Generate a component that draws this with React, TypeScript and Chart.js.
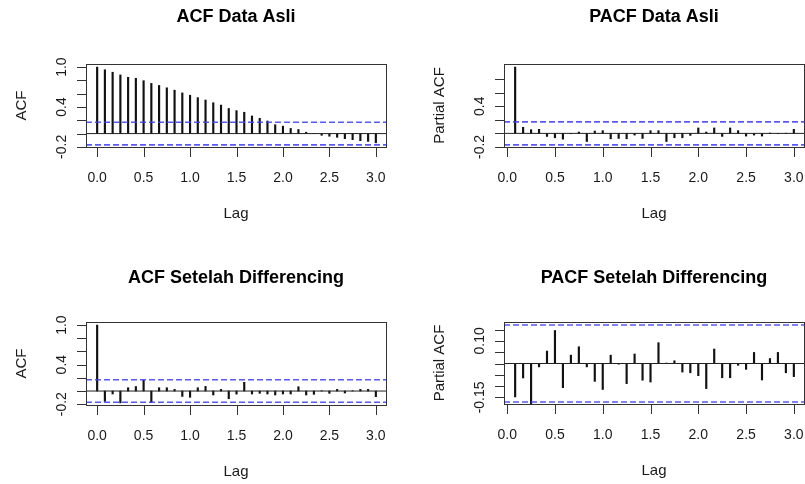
import React, { useEffect, useRef } from "react";
import { Chart, registerables } from "chart.js";
Chart.register(...registerables);

const W = 805;
const H = 484;
const FONT = '"Liberation Sans", Arial, Helvetica, sans-serif';

const FREQ = 12;
const CONF = 0.17;

// ACF of original data, lags 0..36 (months)
const acfAsli = [1.0, 0.96, 0.923, 0.883, 0.847, 0.832, 0.796, 0.755, 0.724, 0.689, 0.653, 0.612, 0.577, 0.541, 0.505, 0.464, 0.429, 0.378, 0.345, 0.321, 0.265, 0.23, 0.189, 0.133, 0.112, 0.077, 0.061, 0.02, 0.004, -0.026, -0.04, -0.056, -0.077, -0.092, -0.107, -0.117, -0.138];
// PACF of original data, lags 1..36
const pacfAsli = [0.98, 0.09, 0.055, 0.06, -0.045, -0.065, -0.085, -0.005, 0.02, -0.12, 0.035, 0.04, -0.08, -0.075, -0.08, -0.025, -0.075, 0.04, 0.04, -0.12, -0.065, -0.065, -0.03, 0.08, 0.02, 0.08, -0.045, 0.08, 0.04, -0.04, -0.025, -0.04, 0.005, -0.005, 0.003, 0.06];
// ACF after differencing, lags 0..36
const acfDiff = [1.0, -0.157, -0.045, -0.18, 0.05, 0.068, 0.162, -0.175, 0.05, 0.05, 0.025, -0.082, -0.095, 0.05, 0.07, -0.06, 0.025, -0.117, -0.047, 0.132, -0.045, -0.035, -0.045, -0.06, -0.045, -0.045, 0.065, -0.06, -0.05, 0.004, -0.035, 0.025, -0.03, 0.004, 0.025, 0.025, -0.085];
// PACF after differencing, lags 1..36
const pacfDiff = [-0.148, -0.064, -0.182, -0.015, 0.055, 0.146, -0.107, 0.037, 0.074, -0.015, -0.079, -0.115, 0.037, -0.003, -0.089, 0.042, -0.074, -0.082, 0.092, 0.002, 0.012, -0.038, -0.041, -0.054, -0.111, 0.064, -0.063, -0.063, -0.008, -0.026, 0.049, -0.073, 0.022, 0.049, -0.041, -0.058];

const xTickVals = [0, 0.5, 1, 1.5, 2, 2.5, 3];
const xTickLabels = ["0.0", "0.5", "1.0", "1.5", "2.0", "2.5", "3.0"];

const yTicksAcf = [-0.2, 0, 0.2, 0.4, 0.6, 0.8, 1.0];
const yLabelsAcf = ["-0.2", "", "", "0.4", "", "", "1.0"];
const yTicksPacf = [-0.2, 0, 0.2, 0.4, 0.6, 0.8];
const yLabelsPacf = ["-0.2", "", "", "0.4", "", ""];
const yTicksPacfDiff = [-0.15, -0.1, -0.05, 0, 0.05, 0.1, 0.15];
const yLabelsPacfDiff = ["-0.15", "", "", "", "", "0.10", ""];

const titles = ["ACF Data Asli", "PACF Data Asli", "ACF Setelah Differencing", "PACF Setelah Differencing"];
const yTitles = ["ACF", "Partial ACF", "ACF", "Partial ACF"];

type Panel = {
  title: string;
  ylab: string;
  lags: number[];
  values: number[];
  box: { l: number; t: number; r: number; b: number };
  titleY: number;
  xMin: number;
  xMax: number;
  yMin: number;
  yMax: number;
  yTicks: number[];
  yLabels: string[];
};

const acfLags = (vals: number[]) => vals.map((_, k) => k / FREQ);
const pacfLags = (vals: number[]) => vals.map((_, k) => (k + 1) / FREQ);

const panels: Panel[] = [
  {
    title: titles[0], ylab: yTitles[0], lags: acfLags(acfAsli), values: acfAsli,
    box: { l: 86, t: 64, r: 386, b: 147 }, titleY: 17,
    xMin: -0.12, xMax: 3.12, yMin: -0.217, yMax: 1.047,
    yTicks: yTicksAcf, yLabels: yLabelsAcf,
  },
  {
    title: titles[1], ylab: yTitles[1], lags: pacfLags(pacfAsli), values: pacfAsli,
    box: { l: 504, t: 64, r: 804, b: 147 }, titleY: 17,
    xMin: -0.0333, xMax: 3.1167, yMin: -0.216, yMax: 1.025,
    yTicks: yTicksPacf, yLabels: yLabelsPacf,
  },
  {
    title: titles[2], ylab: yTitles[2], lags: acfLags(acfDiff), values: acfDiff,
    box: { l: 86, t: 322, r: 386, b: 405 }, titleY: 278,
    xMin: -0.12, xMax: 3.12, yMin: -0.227, yMax: 1.047,
    yTicks: yTicksAcf, yLabels: yLabelsAcf,
  },
  {
    title: titles[3], ylab: yTitles[3], lags: pacfLags(pacfDiff), values: pacfDiff,
    box: { l: 504, t: 322, r: 804, b: 404 }, titleY: 278,
    xMin: -0.0333, xMax: 3.1167, yMin: -0.1836, yMax: 0.1836,
    yTicks: yTicksPacfDiff, yLabels: yLabelsPacfDiff,
  },
];

function makePlugin(p: Panel) {
  return {
    id: "rAxes",
    afterDraw(chart: any) {
      const ctx: CanvasRenderingContext2D = chart.ctx;
      const xs = chart.scales.x;
      const ys = chart.scales.y;
      const { l, t, r, b } = p.box;
      ctx.save();
      ctx.strokeStyle = "#333";
      ctx.lineWidth = 1;
      ctx.strokeRect(l + 0.5, t + 0.5, r - l, b - t);
      ctx.fillStyle = "#1a1a1a";
      // x ticks
      ctx.font = `14px ${FONT}`;
      ctx.textAlign = "center";
      ctx.textBaseline = "middle";
      ctx.beginPath();
      xTickVals.forEach((v) => {
        const px = Math.round(xs.getPixelForValue(v)) + 0.5;
        ctx.moveTo(px, b + 1);
        ctx.lineTo(px, b + 10);
      });
      ctx.stroke();
      xTickVals.forEach((v, i) => {
        const px = xs.getPixelForValue(v);
        ctx.fillText(xTickLabels[i], px, b + 31);
      });
      // y ticks
      ctx.beginPath();
      p.yTicks.forEach((v) => {
        const py = Math.round(ys.getPixelForValue(v)) + 0.5;
        ctx.moveTo(l - 9, py);
        ctx.lineTo(l, py);
      });
      ctx.stroke();
      p.yTicks.forEach((v, i) => {
        const lab = p.yLabels[i];
        if (!lab) return;
        const py = ys.getPixelForValue(v);
        ctx.save();
        ctx.translate(l - 24, py);
        ctx.rotate(-Math.PI / 2);
        ctx.fillText(lab, 0, 0);
        ctx.restore();
      });
      // axis titles
      ctx.font = `15px ${FONT}`;
      ctx.fillText("Lag", (l + r) / 2, b + 67);
      ctx.save();
      ctx.translate(l - 64, (t + b) / 2);
      ctx.rotate(-Math.PI / 2);
      ctx.fillText(p.ylab, 0, 0);
      ctx.restore();
      // main title
      ctx.font = `bold 18px ${FONT}`;
      ctx.fillStyle = "#000";
      ctx.fillText(p.title, (l + r) / 2, p.titleY);
      ctx.restore();
    },
  };
}

function PanelChart({ p }: { p: Panel }) {
  const ref = useRef<HTMLCanvasElement | null>(null);
  useEffect(() => {
    if (!ref.current) return;
    const hline = (y: number, color: string, width: number, dash: number[], order: number) => ({
      type: "line" as const,
      data: [{ x: p.xMin, y }, { x: p.xMax, y }],
      borderColor: color,
      borderWidth: width,
      borderDash: dash,
      pointRadius: 0,
      fill: false,
      order,
    });
    const chart = new Chart(ref.current, {
      type: "bar",
      data: {
        datasets: [
          {
            type: "bar",
            data: p.values.map((v, i) => ({ x: p.lags[i], y: v })),
            backgroundColor: "#111",
            borderWidth: 0,
            barThickness: 1.5,
            grouped: false,
            order: 3,
          } as any,
          hline(0, "#222", 1, [], 2),
          hline(CONF, "rgba(60,60,255,0.85)", 1.6, [6, 3], 1),
          hline(-CONF, "rgba(60,60,255,0.85)", 1.6, [6, 3], 1),
        ],
      },
      options: {
        responsive: false,
        animation: false,
        events: [],
        layout: {
          padding: { left: p.box.l, top: p.box.t, right: W - p.box.r - 1, bottom: H - p.box.b - 1 },
        },
        plugins: { legend: { display: false }, tooltip: { enabled: false }, title: { display: false } },
        scales: {
          x: { type: "linear", display: false, min: p.xMin, max: p.xMax, offset: false },
          y: { type: "linear", display: false, min: p.yMin, max: p.yMax },
        },
      },
      plugins: [makePlugin(p)],
    } as any);
    return () => chart.destroy();
  }, [p]);
  return (
    <canvas
      ref={ref}
      width={W}
      height={H}
      style={{ position: "absolute", left: 0, top: 0, width: W, height: H }}
    />
  );
}

export default function App() {
  return (
    <div style={{ position: "absolute", left: 0, top: 0, width: W, height: H, background: "#fff" }}>
      {panels.map((p, i) => (
        <PanelChart key={i} p={p} />
      ))}
    </div>
  );
}
